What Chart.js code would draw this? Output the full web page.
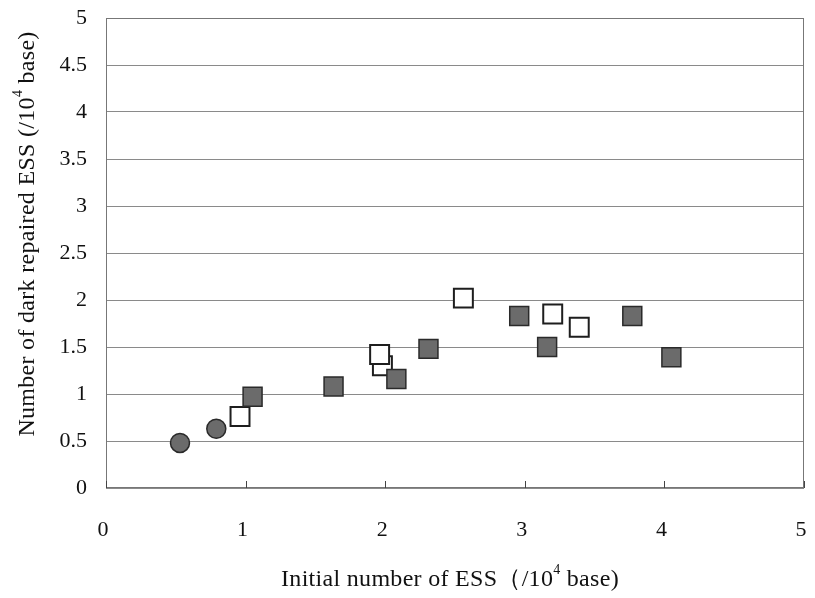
<!DOCTYPE html>
<html>
<head>
<meta charset="utf-8">
<script src="https://cdn.jsdelivr.net/npm/chart.js@4/dist/chart.umd.min.js"></script>
<style>
  html, body { margin: 0; padding: 0; background: #fff; }
  #wrap { width: 815px; height: 598px; position: relative; }
</style>
</head>
<body>
<div id="wrap"><canvas id="c" width="815" height="598"></canvas></div>
<script>
// Initial ESS (x) vs dark-repaired ESS (y), both per 10^4 bases
const circleX = [0.53, 0.79];
const circleY = [0.48, 0.63];

const filledX = [1.05, 1.63, 2.08, 2.31, 2.96, 3.16, 3.77, 4.05];
const filledY = [0.97, 1.08, 1.16, 1.48, 1.83, 1.50, 1.83, 1.39];

const openX = [0.96, 1.98, 1.96, 2.56, 3.20, 3.39];
const openY = [0.76, 1.30, 1.42, 2.02, 1.85, 1.71];

const xTicks = [0, 1, 2, 3, 4, 5];
const yTicks = [0, 0.5, 1, 1.5, 2, 2.5, 3, 3.5, 4, 4.5, 5];

// titles as [text, superscript, text]
const xTitle = ['Initial number of ESS\uFF08/10', '4', ' base)'];
const yTitle = ['Number of dark repaired ESS (/10', '4', ' base)'];

const toPoints = (xs, ys) => xs.map((x, i) => ({ x: x, y: ys[i] }));

const FONT = '"Liberation Serif", "Times New Roman", serif';

// Draws a title with a raised exponent, centred at (cx, cy)
function drawSupTitle(ctx, parts, cx, cy, rotate, size, spacing) {
  ctx.save();
  ctx.translate(cx, cy);
  if (rotate) ctx.rotate(-Math.PI / 2);
  ctx.letterSpacing = spacing + 'px';
  const main = size + 'px ' + FONT;
  const sup = Math.round(size * 0.6) + 'px ' + FONT;
  ctx.font = main; const w0 = ctx.measureText(parts[0]).width;
  ctx.font = sup;  const w1 = ctx.measureText(parts[1]).width;
  ctx.font = main; const w2 = ctx.measureText(parts[2]).width;
  let x = -(w0 + w1 + w2) / 2;
  ctx.fillStyle = '#111';
  ctx.textBaseline = 'middle';
  ctx.textAlign = 'left';
  ctx.font = main; ctx.fillText(parts[0], x, 0); x += w0;
  ctx.font = sup;  ctx.fillText(parts[1], x, -size * 0.42); x += w1;
  ctx.font = main; ctx.fillText(parts[2], x, 0);
  ctx.restore();
}

const framePlugin = {
  id: 'frame',
  afterDraw(chart) {
    const { ctx, chartArea: a, scales } = chart;
    ctx.save();
    // plot frame
    ctx.strokeStyle = '#777';
    ctx.lineWidth = 1;
    ctx.strokeRect(a.left + 0.5, a.top + 0.5, a.right - a.left - 1, a.bottom - a.top - 1);
    // small inward tick marks on the x axis
    ctx.strokeStyle = '#444';
    xTicks.forEach(v => {
      const px = Math.round(scales.x.getPixelForValue(v)) + 0.5;
      ctx.beginPath();
      ctx.moveTo(px, a.bottom);
      ctx.lineTo(px, a.bottom - 7);
      ctx.stroke();
    });
    ctx.restore();
    drawSupTitle(ctx, xTitle, 450, 580, false, 24, 0.3);
    drawSupTitle(ctx, yTitle, 28, 234, true, 24, 0.3);
  }
};

new Chart(document.getElementById('c'), {
  type: 'scatter',
  data: {
    datasets: [
      {
        label: 'filled squares',
        data: toPoints(filledX, filledY),
        pointStyle: 'rect',
        pointRadius: 13.4,
        pointHoverRadius: 13.4,
        backgroundColor: '#6b6b6b',
        borderColor: '#2a2a2a',
        borderWidth: 1.5
      },
      {
        label: 'open squares',
        data: toPoints(openX, openY),
        pointStyle: 'rect',
        pointRadius: 13.4,
        pointHoverRadius: 13.4,
        backgroundColor: '#ffffff',
        borderColor: '#1e1e1e',
        borderWidth: 2
      },
      {
        label: 'circles',
        data: toPoints(circleX, circleY),
        pointStyle: 'circle',
        pointRadius: 9.5,
        pointHoverRadius: 9.5,
        backgroundColor: '#6b6b6b',
        borderColor: '#2a2a2a',
        borderWidth: 1.5
      }
    ]
  },
  options: {
    responsive: false,
    animation: false,
    events: [],
    layout: { autoPadding: false, padding: { top: 18, right: 11, left: 0, bottom: 0 } },
    plugins: {
      legend: { display: false },
      tooltip: { enabled: false }
    },
    scales: {
      x: {
        type: 'linear',
        min: 0, max: 5,
        afterBuildTicks: s => { s.ticks = xTicks.map(v => ({ value: v })); },
        afterFit: s => { s.height = 110; s.paddingLeft = 0; s.paddingRight = 0; },
        grid: { display: false, drawTicks: false },
        border: { display: false },
        ticks: {
          padding: 29,
          labelOffset: -3,
          color: '#111',
          font: { family: FONT, size: 22 },
          maxRotation: 0,
          callback: v => String(v)
        }
      },
      y: {
        type: 'linear',
        min: 0, max: 5,
        afterBuildTicks: s => { s.ticks = yTicks.map(v => ({ value: v })); },
        afterFit: s => { s.width = 106; s.paddingTop = 0; s.paddingBottom = 0; },
        grid: { color: '#8a8a8a', lineWidth: 1, drawTicks: false },
        border: { display: false },
        ticks: {
          padding: 19,
          color: '#111',
          font: { family: FONT, size: 22 },
          callback: v => String(v)
        }
      }
    }
  },
  plugins: [framePlugin]
});
</script>
</body>
</html>
